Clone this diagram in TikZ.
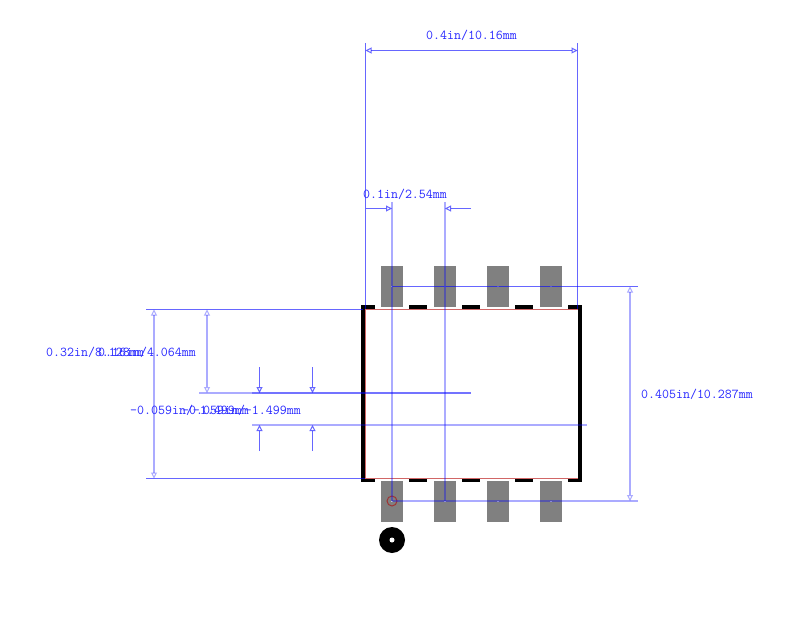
\documentclass[tikz,border=0pt]{standalone}
\usepackage{fontspec}
\usetikzlibrary{arrows.meta}
\definecolor{dimblue}{RGB}{40,40,255}
\tikzset{
  padbox/.style={rectangle,fill=black!50,minimum width=22bp,minimum height=41bp,inner sep=0pt},
  pinmark/.style={rectangle,fill=white,fill opacity=0.6,minimum width=2bp,minimum height=1bp,inner sep=0pt},
  dimline/.style={draw=blue,draw opacity=0.6,line width=1bp},
  dimwide/.style={draw=blue,draw opacity=0.33,line width=2bp},
  dimtip/.style={dimline,-{Triangle[open,length=6bp,width=6bp]}},
  dimtips/.style={dimline,{Triangle[open,length=6bp,width=6bp]}-{Triangle[open,length=6bp,width=6bp]}},
  widetips/.style={dimwide,{Triangle[open,length=6bp,width=6bp,line width=1bp]}-{Triangle[open,length=6bp,width=6bp,line width=1bp]}},
  dimtext/.style={text=dimblue,inner sep=0pt,font=\fontsize{13.6}{15}\ttfamily\selectfont},
  silk/.style={draw=black,line width=3.4bp,line cap=butt},
  courtyard/.style={draw=red!70!black,draw opacity=0.6,line width=1bp}
}
\begin{document}
\begin{tikzpicture}[x=1bp,y=-1bp]
    \useasboundingbox (0,0) rectangle (800,631);
    % pads
    \node at (392,286.5) [padbox] (ta) {};
    \node at (445,286.5) [padbox] (tb) {};
    \node at (498,286.5) [padbox] (tc) {};
    \node at (551,286.5) [padbox] (td) {};
    \node at (392,501) [padbox] (ba) {};
    \node at (445,501) [padbox] (bb) {};
    \node at (498,501) [padbox] (bc) {};
    \node at (551,501) [padbox] (bd) {};
    \foreach \p in {ta,tb,tc,td,ba,bb,bc,bd}
        \node at (\p) [pinmark] {};
    % outline
    \draw[courtyard] (365.5,309.5) rectangle (578.5,478.5);
    \draw[silk] (375,306.8) -- (363,306.8) -- (363,480.7) -- (375,480.7);
    \draw[silk] (568,306.8) -- (580,306.8) -- (580,480.7) -- (568,480.7);
    \foreach \x in {409,462,515} {
        \draw[silk] (\x,306.8) -- ++(18,0);
        \draw[silk] (\x,480.7) -- ++(18,0);
    }
    % pin one
    \draw[courtyard] (392,501) circle (5);
    \node at (392,540) [circle,fill=black,minimum size=26bp,inner sep=0pt] (dot) {};
    \node at (392,540) [circle,fill=white,minimum size=5bp,inner sep=0pt] (hole) {};
    % ends of the dimension lines
    \coordinate (wl) at (365.5,43);
    \coordinate (wr) at (577.5,43);
    \coordinate (wlb) at (365.5,309);
    \coordinate (wrb) at (577.5,309);
    \coordinate (wa) at (365.5,50.5);
    \coordinate (wb) at (577.5,50.5);
    \coordinate (pl) at (392,202);
    \coordinate (pr) at (445,202);
    \coordinate (pa) at (365.5,208.5);
    \coordinate (pb) at (392,208.5);
    \coordinate (pc) at (471,208.5);
    \coordinate (pd) at (445,208.5);
    \coordinate (rt) at (638,286.5);
    \coordinate (rb) at (638,501);
    \coordinate (ra) at (630,286.5);
    \coordinate (rc) at (630,501);
    \coordinate (lt) at (146,309.5);
    \coordinate (lte) at (363,309.5);
    \coordinate (lb) at (146,478.5);
    \coordinate (lbe) at (365,478.5);
    \coordinate (la) at (154,309.5);
    \coordinate (lc) at (154,478.5);
    \coordinate (ma) at (207,309.5);
    \coordinate (mc) at (207,393);
    \coordinate (me) at (199,393);
    \coordinate (mf) at (471,393);
    \coordinate (na) at (259.5,367);
    \coordinate (nb) at (259.5,393);
    \coordinate (nc) at (259.5,451);
    \coordinate (nd) at (259.5,425);
    \coordinate (ne) at (252,393);
    \coordinate (nf) at (252,425);
    \coordinate (ng) at (587,425);
    \coordinate (oa) at (312.5,367);
    \coordinate (ob) at (312.5,393);
    \coordinate (oc) at (312.5,451);
    \coordinate (od) at (312.5,425);
    \coordinate (oe) at (305,393);
    \coordinate (of) at (305,425);
    % dimension lines
    \draw[dimline] (wl) -- (wlb) (wr) -- (wrb);
    \draw[dimtips] (wa) -- (wb);
    \draw[dimwide] (pl) -- (ba.center) (pr) -- (bb.center);
    \draw[dimtip] (pa) -- (pb);
    \draw[dimtip] (pc) -- (pd);
    \draw[dimline] (ta.center) -- (rt);
    \draw[dimwide] (ba.center) -- (rb);
    \draw[widetips] (ra) -- (rc);
    \draw[dimline] (lt) -- (lte) (lb) -- (lbe);
    \draw[widetips] (la) -- (lc);
    \draw[dimwide] (me) -- (mf);
    \draw[widetips] (ma) -- (mc);
    \draw[dimwide] (ne) -- (mf) (oe) -- (mf);
    \draw[dimwide] (nf) -- (ng) (of) -- (ng);
    \draw[dimtip] (na) -- (nb);
    \draw[dimtip] (nc) -- (nd);
    \draw[dimtip] (oa) -- (ob);
    \draw[dimtip] (oc) -- (od);
    % labels
    \node at (471.5,35.5) [dimtext] (wtext) {0.4in/10.16mm};
    \node at (405,194) [dimtext] (ptext) {0.1in/2.54mm};
    \node at (697,394) [dimtext] (rtext) {0.405in/10.287mm};
    \node at (95,352) [dimtext] (ltext) {0.32in/8.128mm};
    \node at (147,352) [dimtext] (mtext) {0.16in/4.064mm};
    \node at (189.5,410) [dimtext] (ntext) {-0.059in/-1.499mm};
    \node at (241.5,410) [dimtext] (otext) {-0.059in/-1.499mm};
\end{tikzpicture}
\end{document}
